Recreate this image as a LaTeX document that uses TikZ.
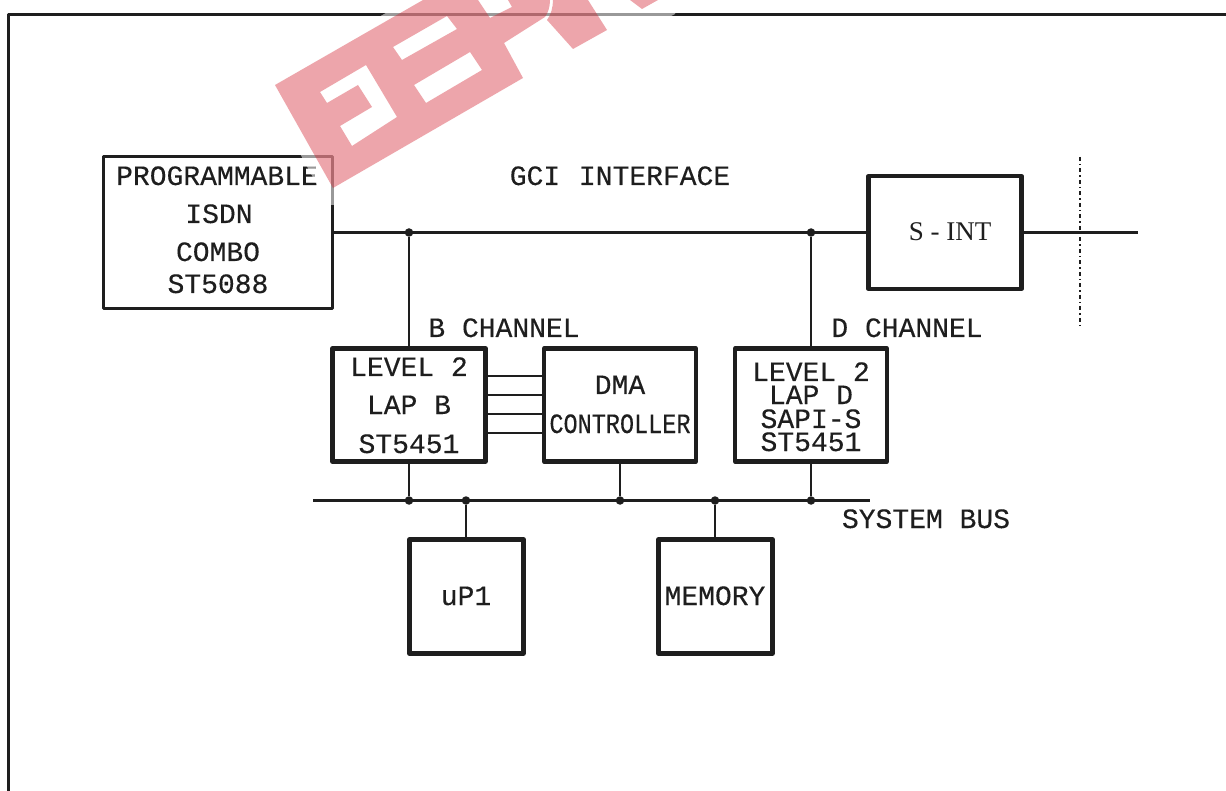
\documentclass[tikz,border=0pt]{standalone}
\usepackage{fontspec}
\setmainfont{Liberation Serif}
\newfontfamily\stroke[FakeBold=0.25]{Liberation Mono}
\definecolor{ink}{HTML}{1E1E1E}
\definecolor{wm}{rgb}{.83,.125,.175}
\tikzset{
  frameline/.style={draw=ink,line width=3pt,line cap=round,line join=round},
  thinbox/.style={frameline,line width=3pt,rectangle,inner sep=0pt},
  thickbox/.style={frameline,line width=4.2pt,rectangle,inner sep=0pt},
  wire/.style={draw=ink,line width=2.8pt},
  dmawire/.style={draw=ink,line width=2.2pt},
  tap/.style={circle,fill=ink,inner sep=0pt,minimum size=8.5pt},
  txt/.style={inner sep=0pt,anchor=base,text=ink,font=\stroke\fontsize{28}{28}\selectfont},
}
\begin{document}
\begin{tikzpicture}[x=1pt,y=-1pt]
\useasboundingbox (0,0) rectangle (1226,791);
\fill[white] (0,0) rectangle (1226,791);
% frame
\coordinate (fa) at (8.5,791);
\coordinate (fb) at (8.5,14.5);
\coordinate (fc) at (1226,14.5);
\draw[frameline] (fa) -- (fb) -- (fc);
% boxes
\node[thinbox,minimum width=229pt,minimum height=152pt] (combo) at (217.5,232.5) {};
\node[thickbox,minimum width=153pt,minimum height=113pt] (sint) at (945,232.5) {};
\node[thickbox,minimum width=153pt,minimum height=113pt] (lapb) at (409,405) {};
\node[thickbox,minimum width=152pt,minimum height=113pt] (dma) at (620,405) {};
\node[thickbox,minimum width=152pt,minimum height=113pt] (lapd) at (811,405) {};
\node[thickbox,minimum width=114pt,minimum height=114pt] (up) at (466.5,596.5) {};
\node[thickbox,minimum width=114pt,minimum height=114pt] (mem) at (715.5,596.5) {};
% taps
\node[tap] (t1) at (409,232.5) {};
\node[tap] (t2) at (811,232.5) {};
\node[tap] (b1) at (409,500.5) {};
\node[tap] (b2) at (466,500.5) {};
\node[tap] (b3) at (620,500.5) {};
\node[tap] (b4) at (715,500.5) {};
\node[tap] (b5) at (811,500.5) {};
\coordinate (busl) at (313,500.5);
\coordinate (busr) at (870,500.5);
\coordinate (out) at (1138,232.5);
\coordinate (dota) at (1080,157);
\coordinate (dotb) at (1080,326);
% wires
\draw[wire] (combo.east) -- (sint.west);
\draw[wire] (sint.east) -- (out);
\draw[wire] (t1) -- (lapb.north);
\draw[wire] (t2) -- (lapd.north);
\draw[wire] (busl) -- (busr);
\draw[wire] (lapb.south) -- (b1);
\draw[wire] (dma.south) -- (b3);
\draw[wire] (lapd.south) -- (b5);
\draw[wire] (b2) -- (up.north -| b2);
\draw[wire] (b4) -- (mem.north -| b4);
\draw[dmawire] ([yshift=29pt]lapb.east) -- ([yshift=29pt]lapb.east -| dma.west);
\draw[dmawire] ([yshift=10pt]lapb.east) -- ([yshift=10pt]lapb.east -| dma.west);
\draw[dmawire] ([yshift=-9pt]lapb.east) -- ([yshift=-9pt]lapb.east -| dma.west);
\draw[dmawire] ([yshift=-28pt]lapb.east) -- ([yshift=-28pt]lapb.east -| dma.west);
\draw[draw=ink,line width=2.8pt,dash pattern=on 4pt off 3pt on 1.5pt off 3pt] (dota) -- (dotb);
% texts
\node[txt] (c1) at (217,185) {PROGRAMMABLE};
\node[txt] (c2) at (219,223) {ISDN};
\node[txt] (c3) at (218,261) {COMBO};
\node[txt] (c4) at (218,293) {ST5088};
\node[txt] (gci) at (620,185) {GCI\hspace{2pt} INTERFACE};
\node[inner sep=0pt,anchor=base,text=ink,font=\fontsize{27}{27}\selectfont] (sl) at (950,241) {S - INT};
\node[txt] (bch) at (504,337) {B CHANNEL};
\node[txt] (dch) at (907,337) {D CHANNEL};
\node[txt] (l1) at (409,376) {LEVEL 2};
\node[txt] (l2) at (409,414) {LAP B};
\node[txt] (l3) at (409,453) {ST5451};
\node[txt] (d1) at (620,394) {DMA};
\node[txt] (d2) at (620,433) {\scalebox{0.84}[1]{CONTROLLER}};
\node[txt] (r1) at (811,381) {LEVEL 2};
\node[txt] (r2) at (811,404) {LAP D};
\node[txt] (r3) at (811,428) {SAPI-S};
\node[txt] (r4) at (811,451) {ST5451};
\node[txt] (sys) at (926,528) {SYSTEM BUS};
\node[txt] (u1) at (466,605) {uP1};
\node[txt] (m1) at (715,605) {MEMORY};
% watermark
\fill[white,opacity=.55] (262,84) -- (412,-2) -- (680,-2) -- (675,14) -- (535,86) -- (335,205) -- (328,205) -- cycle;
\fill[wm,opacity=.4,even odd rule]
  (275,85) -- (423,0) -- (478,0) -- (490,18) -- (512,7) -- (508,0) -- (550,0)
  .. controls (550,7) and (548,13) .. (545,17) -- (504,43) -- (523,78) -- (333,188) -- cycle
  (320,92) -- (366,65) -- (397,117) -- (352,146) -- (340,126) -- (372,107) -- (358,85) -- (327,103) -- cycle
  (393,47) -- (447,16) -- (457,29) -- (402,60) -- cycle
  (414,85) -- (470,52) -- (482,70) -- (426,103) -- cycle;
\fill[wm,opacity=.4] (547,20) .. controls (551,15) and (553,7) .. (553,0) -- (588,0) -- (607,30) -- (573,49) -- cycle;
\fill[wm,opacity=.4] (630,0) -- (658,0) -- (642,9) -- cycle;
\end{tikzpicture}
\end{document}
